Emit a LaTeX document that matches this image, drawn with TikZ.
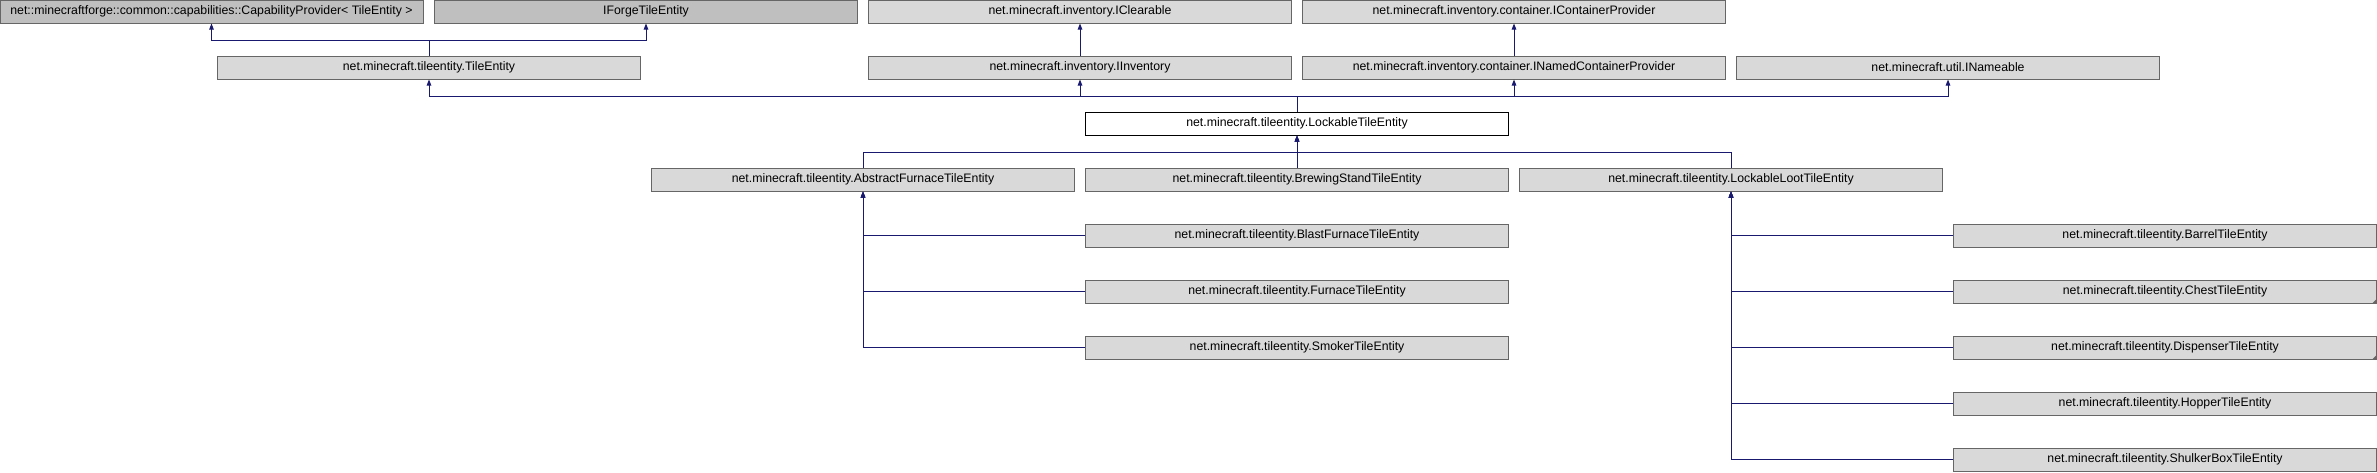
\documentclass[tikz,border=0pt]{standalone}
\usepackage{fontspec}
\setmainfont{Liberation Sans}
\usetikzlibrary{arrows.meta}
\definecolor{edgeblue}{RGB}{25,25,112}
\definecolor{boxgray}{RGB}{217,217,217}
\definecolor{extgray}{RGB}{191,191,191}
\definecolor{boxline}{RGB}{102,102,102}
\tikzset{
	cls/.style={draw=boxline, fill=boxgray, line width=1pt, minimum width=423pt, minimum height=23pt, inner sep=0pt, font=\fontsize{12.3}{14}\selectfont},
	extcls/.style={cls, fill=extgray},
	curcls/.style={cls, draw=black, fill=white},
	edge/.style={draw=edgeblue, line width=1pt, -{Triangle[width=4.5pt,length=6pt]}},
	morekids/.style={fill=boxline}
}

\begin{document}
\begin{tikzpicture}[x=1pt,y=-1pt]
	\useasboundingbox (0,0) rectangle (2377,472);
	% top rows
	\node[extcls] (cap) at (211.5,11.5) {net::minecraftforge::common::capabilities::CapabilityProvider< TileEntity >};
	\node[extcls] (iforge) at (646,11.5) {IForgeTileEntity};
	\node[cls] (iclear) at (1080,11.5) {net.minecraft.inventory.IClearable};
	\node[cls] (icont) at (1514,11.5) {net.minecraft.inventory.container.IContainerProvider};
	\node[cls] (te) at (429,67.5) {net.minecraft.tileentity.TileEntity};
	\node[cls] (iinv) at (1080,67.5) {net.minecraft.inventory.IInventory};
	\node[cls] (inamedcont) at (1514,67.5) {net.minecraft.inventory.container.INamedContainerProvider};
	\node[cls] (iname) at (1948,67.5) {net.minecraft.util.INameable};
	\node[curcls] (lte) at (1297,123.5) {net.minecraft.tileentity.LockableTileEntity};
	% children of LockableTileEntity
	\node[cls] (afur) at (863,179.5) {net.minecraft.tileentity.AbstractFurnaceTileEntity};
	\node[cls] (brew) at (1297,179.5) {net.minecraft.tileentity.BrewingStandTileEntity};
	\node[cls] (lloot) at (1731,179.5) {net.minecraft.tileentity.LockableLootTileEntity};
	\node[cls] (blast) at (1297,235.5) {net.minecraft.tileentity.BlastFurnaceTileEntity};
	\node[cls] (fur) at (1297,291.5) {net.minecraft.tileentity.FurnaceTileEntity};
	\node[cls] (smok) at (1297,347.5) {net.minecraft.tileentity.SmokerTileEntity};
	\node[cls] (barrel) at (2165,235.5) {net.minecraft.tileentity.BarrelTileEntity};
	\node[cls] (chest) at (2165,291.5) {net.minecraft.tileentity.ChestTileEntity};
	\node[cls] (disp) at (2165,347.5) {net.minecraft.tileentity.DispenserTileEntity};
	\node[cls] (hopper) at (2165,403.5) {net.minecraft.tileentity.HopperTileEntity};
	\node[cls] (shulk) at (2165,459.5) {net.minecraft.tileentity.ShulkerBoxTileEntity};
	\fill[morekids] (chest.south east) -- ++(-5,0) -- ++(5,-5) -- cycle;
	\fill[morekids] (disp.south east) -- ++(-5,0) -- ++(5,-5) -- cycle;
	% junctions
	\coordinate (teup) at (429,40);
	\coordinate (lteup) at (1297,96);
	\coordinate (ltedn) at (1297,152);
	% inheritance edges
	\draw[edge] (te.north) -- (teup) -| (cap.south);
	\draw[edge] (teup) -| (iforge.south);
	\draw[edge] (iinv) -- (iclear);
	\draw[edge] (inamedcont) -- (icont);
	\draw[edge] (lte.north) -- (lteup) -| (te.south);
	\draw[edge] (lteup) -| (iinv.south);
	\draw[edge] (lteup) -| (inamedcont.south);
	\draw[edge] (lteup) -| (iname.south);
	\draw[edge] (afur.north) |- (ltedn) -- (lte.south);
	\draw[edge] (brew.north) -- (lte.south);
	\draw[edge] (lloot.north) |- (ltedn) -- (lte.south);
	\foreach \k in {blast,fur,smok}
		\draw[edge] (\k.west) -| (afur.south);
	\foreach \k in {barrel,chest,disp,hopper,shulk}
		\draw[edge] (\k.west) -| (lloot.south);
\end{tikzpicture}
\end{document}
